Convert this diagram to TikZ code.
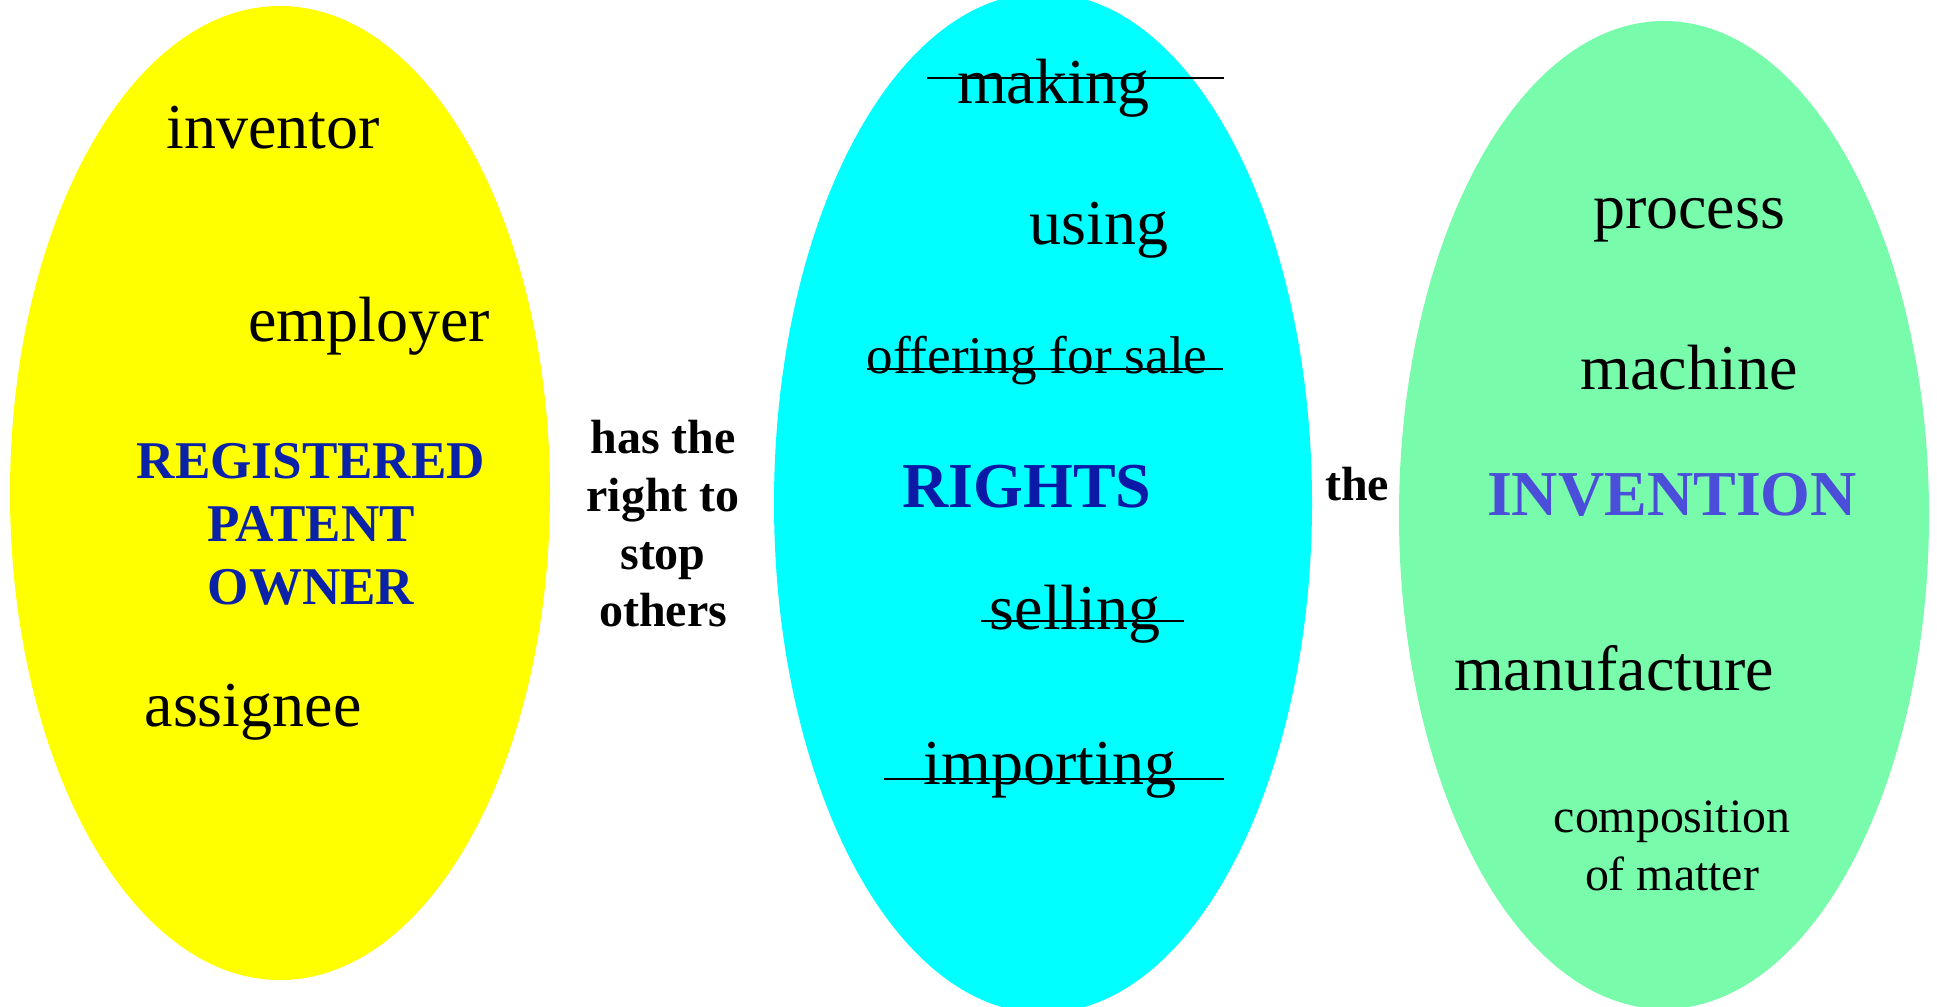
\documentclass[tikz,border=0pt]{standalone}
\usepackage{fontspec}
\setmainfont{Liberation Serif}
\definecolor{ownerfill}{HTML}{FFFF00}
\definecolor{rightsfill}{HTML}{00FFFF}
\definecolor{inventionfill}{HTML}{78FCAC}
\definecolor{ownerblue}{HTML}{0A22A8}
\definecolor{rightsblue}{HTML}{0A1AA6}
\definecolor{inventionblue}{HTML}{4A4ED8}
\tikzset{
  word/.style={anchor=base, inner sep=0pt, font=\fontsize{18.2}{21}\selectfont},
  smallword/.style={anchor=base, inner sep=0pt, font=\fontsize{15.1}{18}\selectfont},
  title/.style={anchor=base, inner sep=0pt, font=\bfseries\fontsize{#1}{#1}\selectfont},
  link/.style={anchor=base, inner sep=0pt, font=\bfseries\fontsize{13.65}{16}\selectfont},
  strike/.style={line width=0.6pt}
}
\begin{document}
\begin{tikzpicture}[x=0.01cm, y=-0.01cm]
  \useasboundingbox (0,0) rectangle (1937,1006);
  \clip (0,0) rectangle (1937,1006);
  \fill[ownerfill] (280,493) ellipse [x radius=270, y radius=487];
  \fill[rightsfill] (1043,503) ellipse [x radius=269, y radius=510];
  \fill[inventionfill] (1664,515) ellipse [x radius=265, y radius=494];

  % owner
  \draw
    (273,148) node[word] (inventor){inventor}
    (369,341) node[word] (employer){employer}
    (311,478) node[title=15.1, ownerblue] (registered){REGISTERED}
    (311,541) node[title=15.1, ownerblue] (patent){PATENT}
    (311,604) node[title=15.1, ownerblue] (owner){OWNER}
    (253,726) node[word] (assignee){assignee};

  % links
  \draw
    (663,453) node[link] (has){has the}
    (663,511) node[link] (right){right to}
    (663,569) node[link] (stop){stop}
    (663,626) node[link] (others){others}
    (1357,500) node[link] (the){the};

  % rights
  \draw
    (1053,103) node[word] (making){making}
    (1099,244) node[word] (using){using}
    (1037,373) node[smallword] (offering){offering for sale}
    (1027,507) node[title=18.2, rightsblue] (rights){RIGHTS}
    (1075,629) node[word] (selling){selling}
    (1050,784) node[word] (importing){importing};

  \coordinate (making-a) at (927,78);
  \coordinate (making-b) at (1224,78);
  \coordinate (offering-a) at (867,369);
  \coordinate (offering-b) at (1223,369);
  \coordinate (selling-a) at (981,621);
  \coordinate (selling-b) at (1184,621);
  \coordinate (importing-a) at (884,779);
  \coordinate (importing-b) at (1224,779);
  \begin{scope}[strike]
    \draw (making-a) to (making-b);
    \draw (offering-a) to (offering-b);
    \draw (selling-a) to (selling-b);
    \draw (importing-a) to (importing-b);
  \end{scope}

  % invention
  \draw
    (1689,228) node[word] (process){process}
    (1689,389) node[word] (machine){machine}
    (1672,515) node[title=18.2, inventionblue] (invention){INVENTION}
    (1614,690) node[word] (manufacture){manufacture}
    (1672,832) node[word, font=\fontsize{13.6}{16}\selectfont] (composition){composition}
    (1672,890) node[word, font=\fontsize{13.6}{16}\selectfont] (matter){of matter};
\end{tikzpicture}
\end{document}
